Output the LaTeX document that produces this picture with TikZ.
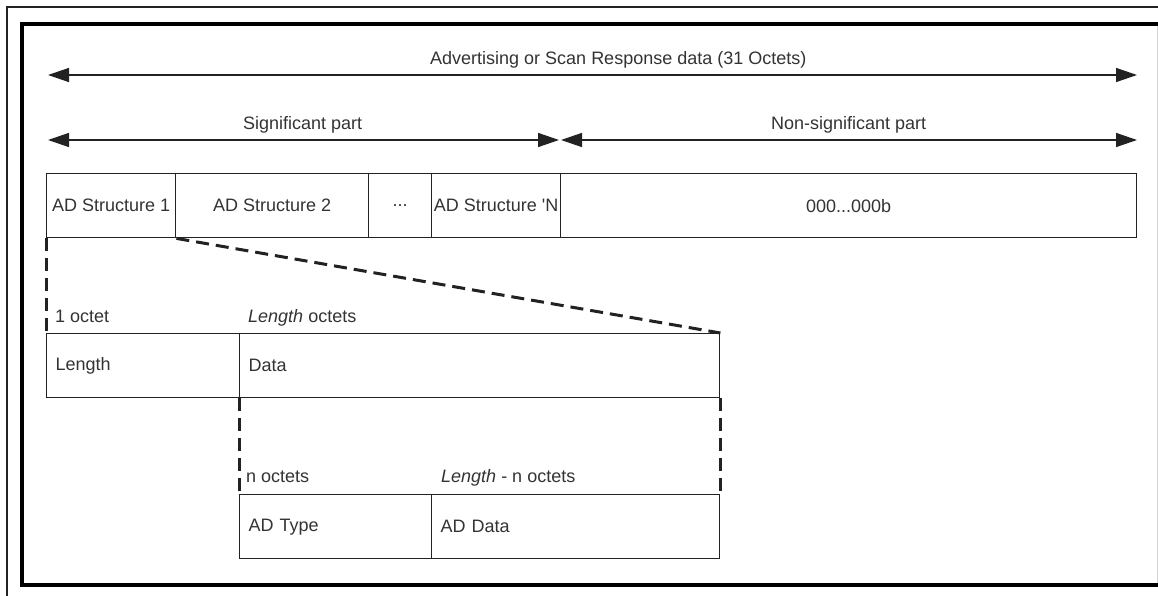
\documentclass[tikz,border=0pt]{standalone}
\usepackage{fontspec}
\setmainfont{Liberation Sans}[Ligatures=TeXOff]
\usetikzlibrary{arrows.meta}
\definecolor{ink}{HTML}{333333}
\definecolor{ln}{HTML}{222222}
\begin{document}
\begin{tikzpicture}[x=1pt,y=-1pt, font=\fontsize{18}{21}\selectfont, text=ink,
  field/.style={draw=ln, line width=1.4pt, rectangle, inner sep=0pt, minimum height=64pt, anchor=north west},
  lfield/.style={field, align=left, inner xsep=9pt, text width=#1},
  dim/.style={draw=ln, line width=1.4pt, {Triangle[length=21pt,width=14pt]}-{Triangle[length=21pt,width=14pt]}},
  zoomline/.style={draw=ln, line width=3pt, dash pattern=on 13pt off 7pt},
  lbl/.style={anchor=base west, inner sep=0pt}]
\useasboundingbox (0,0) rectangle (1158,596);

% frame
\draw[ln, line width=1.2pt] (7,596) -- (7,7) -- (1158,7);
\draw[black, line width=4pt] (1158,24) -- (22,24) -- (22,585) -- (1158,585);
\draw[gray!35, line width=1pt] (1157.5,26) -- (1157.5,583);

% dimension arrows
\coordinate (a1l) at (48,75);
\coordinate (a1r) at (1137,75);
\coordinate (a2l) at (48,140);
\coordinate (a2m) at (559,140);
\coordinate (a3l) at (561,140);
\coordinate (a3r) at (1137,140);
\draw[dim] (a1l) -- (a1r);
\draw[dim] (a2l) -- (a2m);
\draw[dim] (a3l) -- (a3r);
\node[lbl] (t1) at (430,65) {Advertising or Scan Response data (31 Octets)};
\node[lbl] (t2) at (243,130) {Significant part};
\node[lbl] (t3) at (771,130) {Non-significant part};

% AD structures
\node[field, minimum width=129pt] (b1) at (46,173) {AD Structure 1};
\node[field, minimum width=193pt] (b2) at (175,173) {AD Structure 2};
\node[field, minimum width=63pt]  (b3) at (368,173) {...};
\node[field, minimum width=129pt] (b4) at (431,173) {AD Structure 'N};
\node[field, minimum width=576pt] (b5) at (560,173) {000...000b};

% Length / Data
\node[lfield=175pt] (len) at (46,333) {Length};
\node[lfield=462pt] (dat) at (239,333) {Data};
\node[lbl] (l1) at (55,322) {1 octet};
\node[lbl] (l2) at (248,322) {\textit{Length} octets};

% AD Type / AD Data
\node[lfield=174pt] (typ) at (239,494) {AD Type};
\node[lfield=270pt] (add) at (431,494) {AD Data};
\node[lbl] (l3) at (246,482) {n octets};
\node[lbl] (l4) at (441,482) {\textit{Length} - n octets};

% zoom lines
\draw[zoomline] (b1.south west) -- (len.north west);
\draw[zoomline] (b1.south east) -- (dat.north east);
\draw[zoomline] (dat.south west) -- (typ.north west);
\draw[zoomline] (dat.south east) -- (add.north east);
\end{tikzpicture}
\end{document}
